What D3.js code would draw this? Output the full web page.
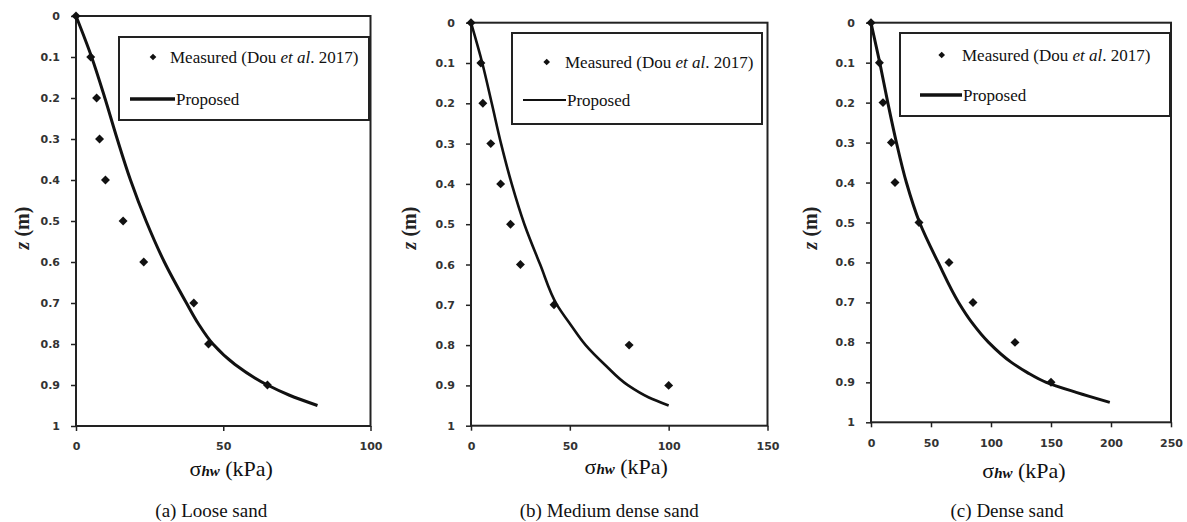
<!DOCTYPE html>
<html>
<head>
<meta charset="utf-8">
<script src="https://cdn.jsdelivr.net/npm/d3@7"></script>
<style>
  body { margin: 0; background: #fff; }
  .tick text { font-family: 'DejaVu Sans', sans-serif; font-weight: bold; font-size: 11px; fill: #333; }
</style>
</head>
<body>
<div class="chart"></div>
<script>
// depth of measurement points (m)
const depth = [0, 0.1, 0.2, 0.3, 0.4, 0.5, 0.6, 0.7, 0.8, 0.9];
// measured horizontal stress (kPa), Dou et al. 2017
const looseMeasured = [0, 5, 7, 8, 10, 16, 23, 40, 45, 65];
const mediumMeasured = [0, 5, 6, 10, 15, 20, 25, 42, 80, 100];
const denseMeasured = [0, 7, 10, 17, 20, 40, 65, 85, 120, 150];

// proposed curves
const looseCurveZ = [0, 0.1, 0.2, 0.3, 0.4, 0.5, 0.6, 0.7, 0.75, 0.8, 0.85, 0.9, 0.925, 0.95];
const looseCurveS = [0, 5.3, 9.8, 14, 18.5, 23.8, 30, 37.5, 41.5, 46.5, 54, 65, 72.5, 82];
const mediumCurveZ = [0, 0.1, 0.2, 0.3, 0.4, 0.5, 0.6, 0.7, 0.75, 0.8, 0.85, 0.9, 0.93, 0.95];
const mediumCurveS = [0, 5.7, 10.5, 15.2, 20.6, 27, 35, 43.5, 50.5, 58, 68, 79.5, 90, 100];
const denseCurveZ = [0, 0.1, 0.2, 0.3, 0.4, 0.5, 0.6, 0.7, 0.75, 0.8, 0.85, 0.875, 0.9, 0.925, 0.95];
const denseCurveS = [0, 7.3, 14, 21.2, 29.5, 40.5, 56, 73, 84, 98, 117, 130, 146, 171, 199];

const zTicks = [0, 0.1, 0.2, 0.3, 0.4, 0.5, 0.6, 0.7, 0.8, 0.9, 1];
const looseTicks = [0, 50, 100];
const mediumTicks = [0, 50, 100, 150];
const denseTicks = [0, 50, 100, 150, 200, 250];

const captions = ['(a) Loose sand', '(b) Medium dense sand', '(c) Dense sand'];

const serif = "'Liberation Serif', 'DejaVu Serif', serif";
const width = 1187;
const height = 522;

const svg = d3
  .select('div.chart')
  .append('svg')
  .attr('width', width)
  .attr('height', height);

const panels = [
  {
    measured: looseMeasured, curveZ: looseCurveZ, curveS: looseCurveS, ticks: looseTicks,
    left: 76, right: 370.5, top: 16, bottom: 426, lineW: 3, legendLineW: 3.5,
    legend: { x: 119, y: 37, w: 250, h: 83, dx: 153, dy: 57, textX: 170, lx1: 130, lx2: 175, ly: 99 },
    zLabelX: 23, zLabelY: 228, xLabelDx: 8, xTickY: 446, xLabelY: 476, capDx: -12,
  },
  {
    measured: mediumMeasured, curveZ: mediumCurveZ, curveS: mediumCurveS, ticks: mediumTicks,
    left: 471, right: 767.5, top: 22.7, bottom: 425.7, lineW: 2.6, legendLineW: 2,
    legend: { x: 512, y: 33, w: 250, h: 91, dx: 546.7, dy: 62, textX: 565, lx1: 523, lx2: 566, ly: 100 },
    zLabelX: 410, zLabelY: 228, xLabelDx: 7, xTickY: 446, xLabelY: 474, capDx: -10,
  },
  {
    measured: denseMeasured, curveZ: denseCurveZ, curveS: denseCurveS, ticks: denseTicks,
    left: 871, right: 1171, top: 22.7, bottom: 422.3, lineW: 3, legendLineW: 3.5,
    legend: { x: 900, y: 33, w: 270, h: 83, dx: 941.7, dy: 55, textX: 962, lx1: 920, lx2: 962, ly: 95 },
    zLabelX: 811, zLabelY: 228, xLabelDx: 3, xTickY: 443, xLabelY: 478, capDx: -14,
  },
];

const diamond = (size) => d3.symbol().type(d3.symbolSquare).size(size)();

const addText = (g) => g.append('text').attr('font-family', serif).attr('fill', '#111');

panels.forEach((p, i) => {
  const x = d3.scaleLinear().domain([0, p.ticks[p.ticks.length - 1]]).range([p.left, p.right]);
  const y = d3.scaleLinear().domain([0, 1]).range([p.top, p.bottom]);
  const g = svg.append('g');

  // frame
  g.append('rect')
    .attr('x', p.left)
    .attr('y', p.top)
    .attr('width', p.right - p.left)
    .attr('height', p.bottom - p.top)
    .attr('fill', 'none')
    .attr('stroke', '#222')
    .attr('stroke-width', 2);

  const yAxis = g
    .append('g')
    .attr('transform', `translate(${p.left},0)`)
    .call(d3.axisLeft(y).tickValues(zTicks).tickSize(5).tickPadding(11).tickFormat(d3.format('')));
  yAxis.select('.domain').remove();
  yAxis.selectAll('.tick line').attr('stroke', '#222').attr('stroke-width', 1.5);

  const xAxis = g
    .append('g')
    .attr('transform', `translate(0,${p.bottom})`)
    .call(d3.axisBottom(x).tickValues(p.ticks).tickSize(5).tickPadding(p.xTickY - p.bottom - 9));
  xAxis.select('.domain').remove();
  xAxis.selectAll('.tick line').attr('stroke', '#222').attr('stroke-width', 1.5);

  // proposed curve
  const curveData = p.curveZ.map((z, k) => [p.curveS[k], z]);
  g.append('path')
    .datum(curveData)
    .attr('d', d3.line().x((d) => x(d[0])).y((d) => y(d[1])).curve(d3.curveMonotoneY))
    .attr('fill', 'none')
    .attr('stroke', '#111')
    .attr('stroke-width', p.lineW);

  // measured points
  g.selectAll('.pt')
    .data(depth.map((z, k) => [p.measured[k], z]))
    .enter()
    .append('path')
    .attr('class', 'pt')
    .attr('d', diamond(40))
    .attr('transform', (d) => `translate(${x(d[0])},${y(d[1])}) rotate(45)`)
    .attr('fill', '#111');

  // legend
  const L = p.legend;
  g.append('rect')
    .attr('x', L.x).attr('y', L.y).attr('width', L.w).attr('height', L.h)
    .attr('fill', '#fff').attr('stroke', '#222').attr('stroke-width', 2);
  g.append('path')
    .attr('d', diamond(22))
    .attr('transform', `translate(${L.dx},${L.dy}) rotate(45)`)
    .attr('fill', '#111');
  const t1 = addText(g).attr('x', L.textX).attr('y', L.dy + 6).attr('font-size', 17);
  t1.append('tspan').text('Measured (Dou ');
  t1.append('tspan').attr('font-style', 'italic').text('et al');
  t1.append('tspan').text('. 2017)');
  g.append('line')
    .attr('x1', L.lx1).attr('x2', L.lx2).attr('y1', L.ly).attr('y2', L.ly)
    .attr('stroke', '#111').attr('stroke-width', p.legendLineW);
  addText(g).attr('x', L.lx2 + 1).attr('y', L.ly + 6).attr('font-size', 17).text('Proposed');

  // z axis label
  const zl = addText(g)
    .attr('transform', `translate(${p.zLabelX + 6},${p.zLabelY}) rotate(-90)`)
    .attr('text-anchor', 'middle')
    .attr('font-size', 20)
    .attr('font-weight', 'bold')
    .attr('fill', '#222');
  zl.append('tspan').attr('font-style', 'italic').text('z');
  zl.append('tspan').text(' (m)');

  // sigma label
  const cx = (p.left + p.right) / 2;
  const xl = addText(g)
    .attr('x', cx + p.xLabelDx).attr('y', p.xLabelY)
    .attr('text-anchor', 'middle')
    .attr('font-size', 22);
  xl.append('tspan').text('σ');
  xl.append('tspan').attr('font-size', 15).attr('font-style', 'italic').attr('font-weight', 'bold').text('hw');
  xl.append('tspan').text(' (kPa)');

  // caption
  addText(g)
    .attr('x', cx + p.capDx).attr('y', 517)
    .attr('text-anchor', 'middle')
    .attr('font-size', 19)
    .text(captions[i]);
});
</script>
</body>
</html>
